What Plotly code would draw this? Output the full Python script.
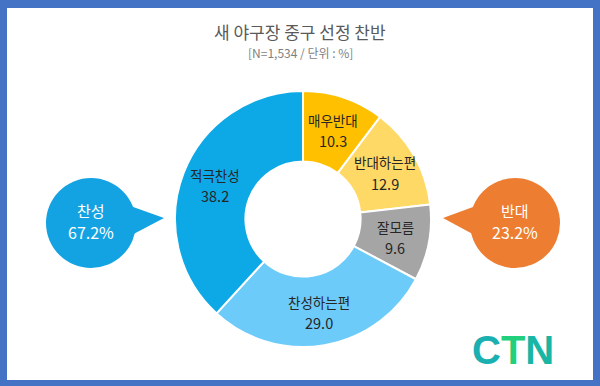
import math
import plotly.graph_objects as go

W, H = 600, 386

labels = ["매우반대", "반대하는편", "잘모름", "찬성하는편", "적극찬성"]
values = [10.3, 12.9, 9.6, 29.0, 38.2]
colors = ["#FFC000", "#FFD966", "#A5A5A5", "#6DCBFA", "#0DA9E6"]

title_text = "새 야구장 중구 선정 찬반"
subtitle_text = "[N=1,534 / 단위 : %]"
group_labels = ["찬성", "반대"]
group_values = [67.2, 23.2]
group_colors = ["#14A3E2", "#ED7D31"]

FONT = "Noto Sans CJK KR"

def fx(px):
    return px / W

def fy(py):
    return 1 - py / H

cx, cy, r = 303, 219, 128
r_lab = 94

fig = go.Figure()
fig.add_trace(go.Pie(
    labels=labels,
    values=values,
    sort=False,
    direction="clockwise",
    rotation=0,
    hole=0.45,
    marker=dict(colors=colors, line=dict(color="white", width=2)),
    textinfo="none",
    hoverinfo="label+value",
    showlegend=False,
    domain=dict(x=[fx(cx - r), fx(cx + r)], y=[fy(cy + r), fy(cy - r)]),
))

shapes = [
    dict(type="rect", xref="paper", yref="paper", x0=fx(7), x1=fx(593), y0=fy(380), y1=fy(8),
         fillcolor="white", line=dict(width=0), layer="below"),
]
annotations = []

# slice labels, placed at each slice's mid-angle
total = sum(values)
cum = 0.0
for lab, val in zip(labels, values):
    mid = (cum + val / 2) / total * 2 * math.pi
    cum += val
    lx = cx + r_lab * math.sin(mid)
    ly = cy - r_lab * math.cos(mid)
    annotations.append(dict(x=fx(lx), y=fy(ly - 10), xref="paper", yref="paper", text=lab,
                            showarrow=False, font=dict(family=FONT, size=13.5, color="#262626"),
                            xanchor="center", yanchor="middle"))
    annotations.append(dict(x=fx(lx), y=fy(ly + 11), xref="paper", yref="paper", text=f"{val:.1f}",
                            showarrow=False, font=dict(family=FONT, size=14.5, color="#262626"),
                            xanchor="center", yanchor="middle"))

# bubbles
bubbles = [
    dict(cx=91, cy=223, tail=[(122, 203), (164, 218), (126, 238)]),
    dict(cx=515, cy=223, tail=[(484, 203), (443, 218), (480, 238)]),
]
br = 45
for b, lab, val, col in zip(bubbles, group_labels, group_values, group_colors):
    shapes.append(dict(type="circle", xref="paper", yref="paper",
                       x0=fx(b["cx"] - br), x1=fx(b["cx"] + br),
                       y0=fy(b["cy"] + br), y1=fy(b["cy"] - br),
                       fillcolor=col, line=dict(width=0), layer="above"))
    pts = b["tail"]
    path = "M " + " L ".join(f"{fx(x)},{fy(y)}" for x, y in pts) + " Z"
    shapes.append(dict(type="path", xref="paper", yref="paper", path=path,
                       fillcolor=col, line=dict(width=0), layer="above"))
    annotations.append(dict(x=fx(b["cx"]), y=fy(b["cy"] - 13), xref="paper", yref="paper",
                            text=lab, showarrow=False,
                            font=dict(family=FONT, size=15, color="white"),
                            xanchor="center", yanchor="middle"))
    annotations.append(dict(x=fx(b["cx"]), y=fy(b["cy"] + 9), xref="paper", yref="paper",
                            text=f"{val:.1f}%", showarrow=False,
                            font=dict(family=FONT, size=16, color="white"),
                            xanchor="center", yanchor="middle"))

annotations.append(dict(x=0.5, y=fy(32), xref="paper", yref="paper", text=title_text,
                        showarrow=False, font=dict(family=FONT, size=17, color="#595959"),
                        xanchor="center", yanchor="middle"))
annotations.append(dict(x=0.5, y=fy(52), xref="paper", yref="paper", text=subtitle_text,
                        showarrow=False, font=dict(family=FONT, size=12, color="#7F7F7F"),
                        xanchor="center", yanchor="middle"))
annotations.append(dict(x=fx(513), y=fy(350), xref="paper", yref="paper",
                        text="<b><span style='color:#1AAFB0'>C</span><span style='color:#22CF7C'>T</span><span style='color:#19B6A6'>N</span></b>",
                        showarrow=False, font=dict(family="Liberation Sans", size=40, color="#1EC28E"),
                        xanchor="center", yanchor="middle"))

fig.update_layout(
    width=W, height=H,
    margin=dict(l=0, r=0, t=0, b=0),
    paper_bgcolor="#4472C4",
    plot_bgcolor="white",
    shapes=shapes,
    annotations=annotations,
)

fig.write_html("out.html", config={"displayModeBar": False},
               post_script="document.body.style.margin='0';document.body.style.overflow='hidden';")
